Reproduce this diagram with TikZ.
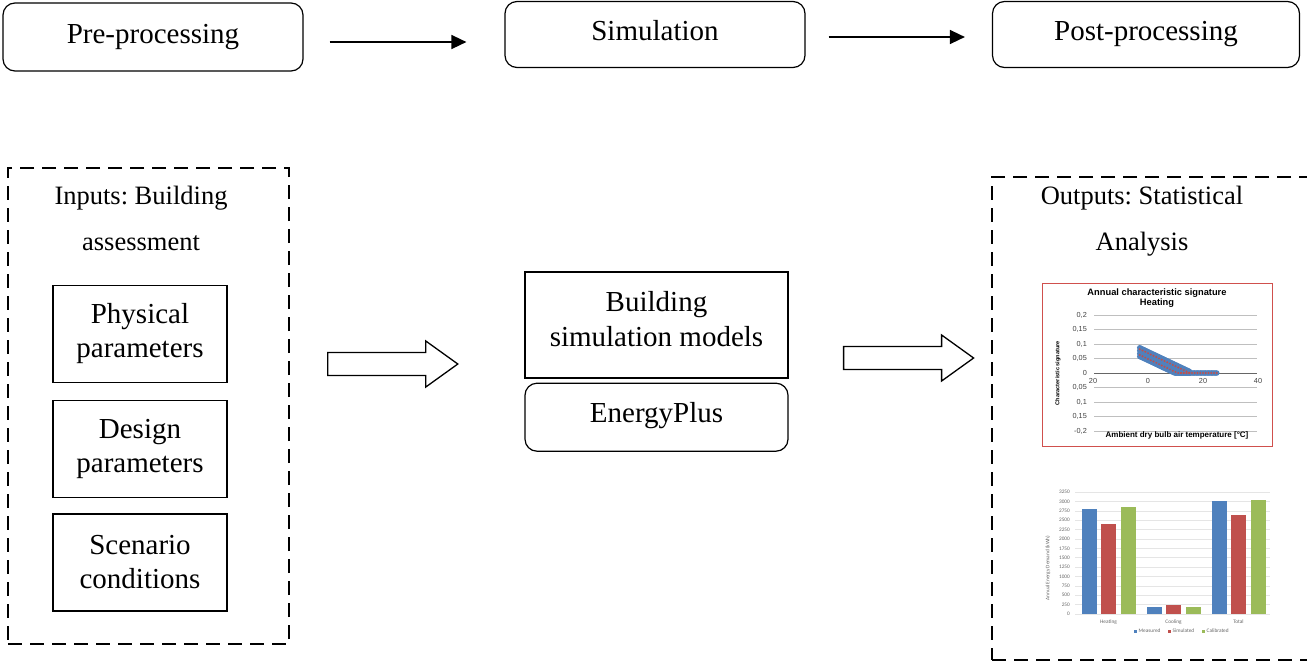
\documentclass[tikz,border=0pt]{standalone}
\usepackage{fontspec}
\setmainfont{Liberation Serif}
\newfontfamily\chartfont{Liberation Sans}
\newfontfamily\barfont{Carlito}
\usetikzlibrary{positioning,calc,arrows.meta}
\definecolor{barblue}{HTML}{4F81BD}
\definecolor{barred}{HTML}{C0504D}
\definecolor{bargreen}{HTML}{9BBB59}
\definecolor{framered}{HTML}{D0504D}
\frenchspacing
\newcommand{\bigtxt}{\fontsize{29}{34}\selectfont}
\newcommand{\headtxt}{\fontsize{26.5}{46}\selectfont}
\newcommand{\fatarrow}[1]{\draw[hollow] #1 ++(0,-11.5) -- ++(98,0) -- ++(0,-11.5) -- ++(32,23) -- ++(-32,23) -- ++(0,-11.5) -- ++(-98,0) -- cycle;}

\begin{document}
\begin{tikzpicture}[x=1pt,y=-1pt,
		stage/.style={draw,line width=1.2pt,rounded corners=12pt,minimum width=300pt,minimum height=67pt,font=\bigtxt},
		flow/.style={line width=1.5pt,-{Triangle[length=15pt,width=14pt]}},
		group/.style={draw,line width=1.6pt,dash pattern=on 14pt off 8pt},
		param/.style={draw,line width=1.2pt,minimum width=174pt,minimum height=97pt,align=center,font=\bigtxt},
		hollow/.style={draw,line width=1.3pt,fill=white,line join=miter},
		sigtick/.style={font=\chartfont\fontsize{7.3}{8}\selectfont,text=black!75,inner sep=1pt},
		barlabel/.style={font=\barfont\fontsize{5.3}{6}\selectfont,text=black!60,inner sep=1pt}]
	\useasboundingbox (0,0) rectangle (1307,662);
	\clip (0,0) rectangle (1307,662);
	%
	\node[stage,minimum height=68pt] (pre) at (153,37) {Pre-processing};
	\node[stage,minimum height=66pt,text depth=9pt] (sim) at (655,34.5) {Simulation};
	\node[stage,minimum width=307pt,minimum height=66pt] (post) at (1146,34.5) {Post-processing};
	\draw[flow,shorten <=26pt,shorten >=38pt] ([yshift=-5pt]pre.east) -- ([yshift=-5pt]pre.east -| sim.west);
	\draw[flow,shorten <=23pt,shorten >=27pt] ([yshift=-2.5pt]sim.east) -- ([yshift=-2.5pt]sim.east -| post.west);
	%
	\node[group,minimum width=281pt,minimum height=476pt] (inp) at (148.5,406) {};
	\node[font=\headtxt,align=center] (inptitle) at (141,218) {Inputs: Building\\assessment};
	\node[param] (phys) at (140,334) {Physical\\parameters};
	\node[param,below=17pt of phys] (design) {Design\\parameters};
	\node[param,below=15pt of design] (scen) {Scenario\\conditions};
	%
	\node[draw,line width=1.2pt,minimum width=263pt,minimum height=106pt,align=center,text depth=12pt,font=\fontsize{29}{35}\selectfont] (model) at (656.5,325) {Building\\simulation models};
	\node[draw,line width=1.2pt,rounded corners=12pt,minimum width=263pt,minimum height=68pt,text depth=10pt,font=\bigtxt,below=4pt of model] (eplus) {EnergyPlus};
	\fatarrow{($(inp.east)+(38,-42)$)}
	\fatarrow{($(model.east)+(55,33)$)}
	%
	\node[group,minimum width=348pt,minimum height=483pt] (outp) at (1166,418.5) {};
	\node[font=\headtxt,align=center] (outtitle) at (1142,221) {Outputs: Statistical\\Analysis};
	% signature chart
	\draw[framered,line width=1pt] (1042,283) rectangle (1272,446);
	\foreach \k in {-4,...,4}
		\draw[black!25,line width=0.5pt] (1094,{373-14.5*\k}) -- (1257,{373-14.5*\k});
	\draw[black!60,line width=0.7pt] (1094,373) -- (1257,373);
	\foreach \k/\lab in {4/{0,2},3/{0,15},2/{0,1},1/{0,05},0/0,-1/{0,05},-2/{0,1},-3/{0,15},-4/{-0,2}}
		\node[sigtick,anchor=east] at (1088,{373-14.5*\k}) {\lab};
	\foreach \i/\lab in {-1/20,0/0,1/20,2/40}
		\node[sigtick] at ({1148+55*\i},381) {\lab};
	\node[font=\chartfont\bfseries\fontsize{9.3}{10.5}\selectfont,align=center,inner sep=0pt] (sigtitle) at (1157,298) {Annual characteristic signature\\Heating};
	\node[font=\chartfont\bfseries\fontsize{8}{9}\selectfont] (sigx) at (1177,435) {Ambient dry bulb air temperature [°C]};
	\node[font=\chartfont\bfseries\fontsize{5.6}{6}\selectfont,rotate=90] (sigy) at (1058,373) {Characteristic signature};
	\foreach \i in {0,...,36}
		\foreach \dv in {-0.015,-0.005,0.005,0.015}
			\fill[barblue] ({1148+2.75*(-3+0.5*\i)},{373-290*max(0,0.072*(16-0.5*\i)/16+\dv)}) circle (2.8pt);
	\foreach \i in {0,...,30}
		\fill[barblue] ({1148+2.75*(10+0.5*\i)},373) circle (2.8pt);
	\foreach \i in {0,2,...,36}
		\foreach \dv in {-0.01,0.01}
			\fill[barred] ({1148+2.75*(-3+0.5*\i)},{373-290*max(0,0.072*(16-0.5*\i)/16+\dv)}) circle (1.1pt);
	\foreach \i in {0,...,13}
		\fill[barred] ({1148+2.75*(12+\i)},373) circle (1.1pt);
	% demand chart
	\foreach \k in {0,...,13} {
		\draw[black!10,line width=0.5pt] (1075,{614-9.385*\k}) -- (1270,{614-9.385*\k});
		\pgfmathtruncatemacro{\val}{250*\k}
		\node[barlabel,anchor=east] at (1071,{614-9.385*\k}) {\val};
	}
	\foreach \g/\mv/\sv/\cv/\lab in {0/2800/2400/2850/Heating,1/200/250/190/Cooling,2/3000/2650/3050/Total} {
		\fill[barblue] ({1082+65*\g},614) rectangle ++(15,{-0.037538*\mv});
		\fill[barred] ({1101.3+65*\g},614) rectangle ++(15,{-0.037538*\sv});
		\fill[bargreen] ({1120.6+65*\g},614) rectangle ++(15,{-0.037538*\cv});
		\node[barlabel] at ({1108.5+65*\g},622) {\lab};
	}
	\node[barlabel,rotate=90] (bary) at (1048,568) {Annual Energy Demand (kWh)};
	\foreach \x/\col/\lab in {1134/barblue/Measured,1168/barred/Simulated,1202/bargreen/Calibrated} {
		\fill[\col] (\x,629.5) rectangle ++(3,3);
		\node[barlabel,anchor=west] at ({\x+3.5},631) {\lab};
	}
\end{tikzpicture}
\end{document}
